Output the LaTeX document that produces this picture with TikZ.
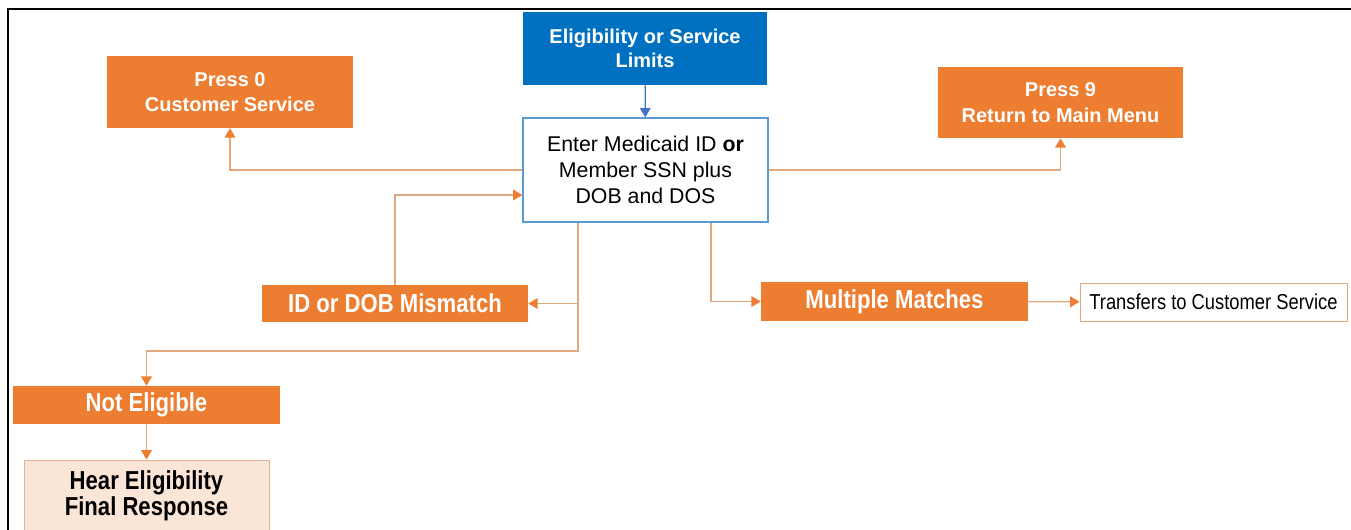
\documentclass[tikz,border=0pt]{standalone}
\usepackage{fontspec}
\setmainfont{Liberation Sans}
\newfontfamily\narrowfont[FakeStretch=0.85]{Liberation Sans}
\usetikzlibrary{arrows.meta,positioning}
\definecolor{ivrorange}{RGB}{237,125,49}
\definecolor{ivrblue}{RGB}{0,112,192}
\definecolor{ivrarrow}{RGB}{68,114,196}
\definecolor{ivrline}{RGB}{226,168,128}
\definecolor{ivrpeach}{RGB}{251,229,214}
\definecolor{ivrpeachline}{RGB}{228,178,150}
\definecolor{ivrframe}{RGB}{91,155,213}

\begin{document}
\begin{tikzpicture}[x=0.75pt,y=-0.75pt,
  >={Triangle[length=7pt,width=8pt,color=ivrorange]},
  flow/.style={->,draw=ivrline,line width=1pt},
  blueflow/.style={-{Triangle[length=7pt,width=8pt,color=ivrarrow]},draw=ivrarrow,line width=1pt},
  topbox/.style={rectangle,fill=ivrblue,text=white,align=center,inner sep=0pt,
    font=\bfseries\fontsize{15}{18}\selectfont},
  inputbox/.style={rectangle,draw=ivrframe,fill=white,line width=0.9pt,align=center,inner sep=0pt,
    font=\fontsize{16}{19.5}\selectfont},
  menu/.style={rectangle,fill=ivrorange,text=white,align=center,inner sep=0pt,
    font=\bfseries\fontsize{15}{19}\selectfont},
  result/.style={rectangle,fill=ivrorange,text=white,align=center,inner sep=0pt,
    font=\narrowfont\bfseries\fontsize{19.5}{23}\selectfont},
  final/.style={rectangle,draw=ivrpeachline,fill=ivrpeach,line width=0.75pt,align=center,inner sep=0pt,
    font=\narrowfont\bfseries\fontsize{19.5}{19.5}\selectfont},
  note/.style={rectangle,draw=ivrline,fill=white,line width=0.75pt,inner sep=0pt,
    font=\narrowfont\fontsize{16.2}{19}\selectfont}]
  \clip (0,0) rectangle (1351,529);

  % frame
  \draw[line width=2pt] (8,540) -- (8,9) -- (1360,9);

  \node[topbox, minimum width=183pt, minimum height=54.75pt]     (elig)     at (645,48.5)    {Eligibility or Service\\Limits};
  \node[inputbox, minimum width=183.75pt, minimum height=78pt]   (enter)    at (645.5,170)   {Enter Medicaid ID \textbf{or}\\Member SSN plus\\DOB and DOS};
  \node[menu, minimum width=184.5pt, minimum height=54pt]        (press0)   at (230,92)      {Press 0\\Customer Service};
  \node[menu, minimum width=183.75pt, minimum height=53.25pt]    (press9)   at (1060.5,102.5){Press 9\\Return to Main Menu};
  \node[result, minimum width=199.5pt, minimum height=27.75pt]   (mismatch) at (395,303.5)   {ID or DOB Mismatch};
  \node[result, minimum width=200.25pt, minimum height=29.25pt]  (multi)    at (894.5,301.5) {Multiple Matches};
  \node[note, minimum width=200.25pt, minimum height=28.5pt]     (transfer) at (1213.5,302)  {Transfers to Customer Service};
  \node[result, minimum width=200.25pt, minimum height=28.5pt]   (noteleg)  at (146.5,405)   {Not Eligible};
  \node[final, minimum width=183.75pt, minimum height=54pt]      (hear)     at (146.5,496)   {Hear Eligibility\\Final Response};

  \coordinate (fork) at ([xshift=-50.6pt]enter.south |- 0,351);

  \draw[blueflow] (elig) -- (enter);
  \draw[flow] (enter.west) -| (press0.south);
  \draw[flow] (enter.east) -| (press9.south);
  \draw[flow] ([xshift=-50.6pt]enter.south) -- (fork) -| (noteleg.north);
  \draw[flow] (mismatch.east -| fork) -- (mismatch.east);
  \draw[flow] (mismatch.north) |- ([yshift=-18.75pt]enter.west);
  \draw[flow] ([xshift=49pt]enter.south) |- (multi.west);
  \draw[flow] (multi) -- (transfer);
  \draw[flow] (noteleg) -- (hear);
\end{tikzpicture}
\end{document}
